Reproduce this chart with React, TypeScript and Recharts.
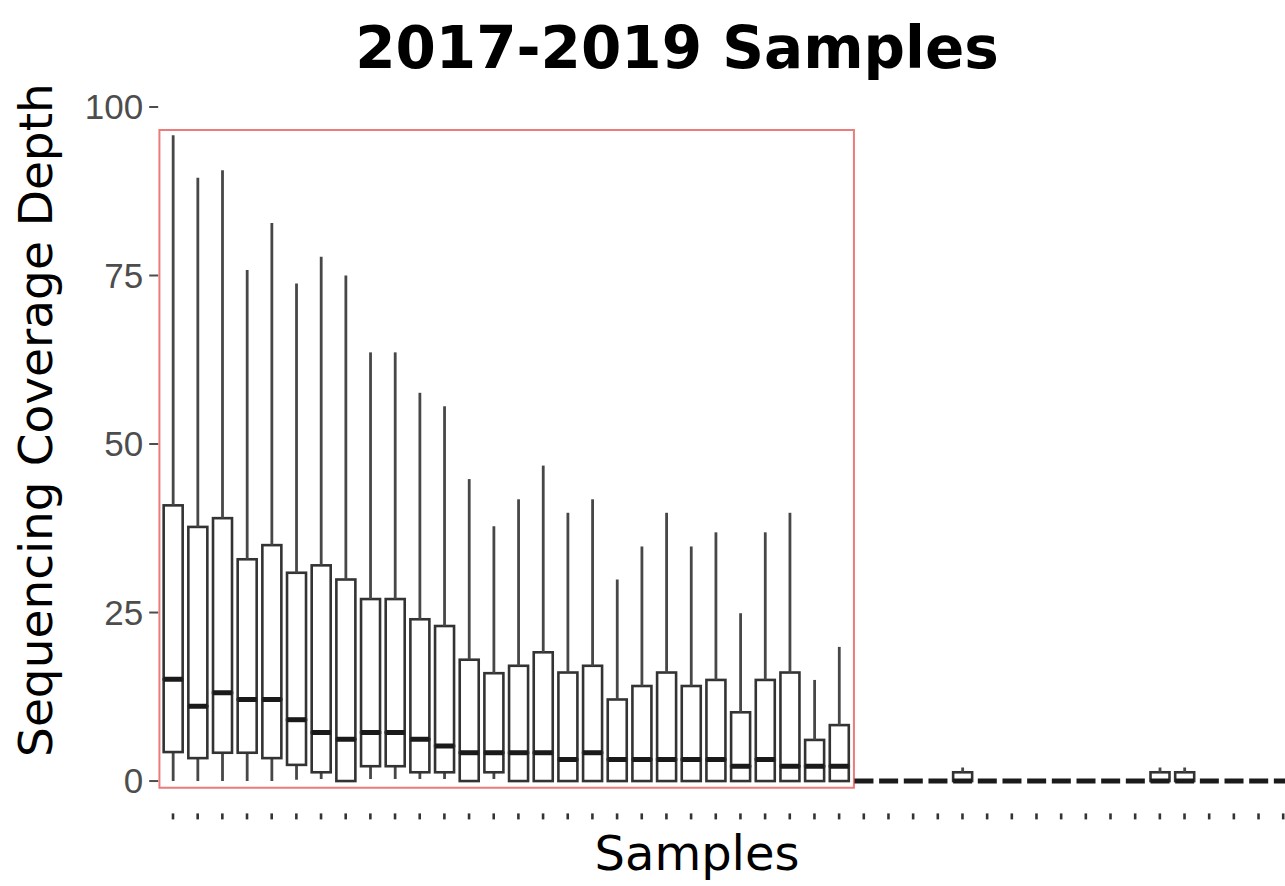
import { ComposedChart, Bar, XAxis, YAxis, ReferenceArea } from 'recharts';

// per-sample coverage summaries (five-number box statistics)
const whiskerMax = [
  95.8, 89.5, 90.6, 75.8, 82.8, 73.8, 77.8, 75.0, 63.6, 63.6, 57.6, 55.6, 44.8, 37.8,
  41.8, 46.8, 39.8, 41.8, 29.9, 34.8, 39.8, 34.8, 36.9, 24.9, 36.9, 39.8, 15.0, 19.9,
  0, 0, 0, 0, 2.0, 0, 0, 0, 0, 0, 0, 0, 2.0, 2.0, 0, 0, 0, 0,
];
const upperQuartile = [
  40.9, 37.7, 39.0, 32.9, 35.0, 30.9, 32.0, 29.9, 27.0, 27.0, 24.0, 23.0, 18.0, 16.0,
  17.1, 19.1, 16.1, 17.1, 12.1, 14.1, 16.1, 14.1, 15.0, 10.2, 15.0, 16.1, 6.1, 8.3,
  0, 0, 0, 0, 1.3, 0, 0, 0, 0, 0, 0, 0, 1.3, 1.3, 0, 0, 0, 0,
];
const medianDepth = [
  15.1, 11.1, 13.1, 12.1, 12.1, 9.1, 7.2, 6.2, 7.2, 7.2, 6.2, 5.2, 4.2, 4.2,
  4.2, 4.2, 3.2, 4.2, 3.2, 3.2, 3.2, 3.2, 3.2, 2.2, 3.2, 2.2, 2.2, 2.2,
  0, 0, 0, 0, 0, 0, 0, 0, 0, 0, 0, 0, 0, 0, 0, 0, 0, 0,
];
const lowerQuartile = [
  4.3, 3.4, 4.2, 4.2, 3.4, 2.4, 1.3, 0, 2.2, 2.2, 1.3, 1.3, 0, 1.3,
  0, 0, 0, 0, 0, 0, 0, 0, 0, 0, 0, 0, 0, 0,
  0, 0, 0, 0, 0, 0, 0, 0, 0, 0, 0, 0, 0, 0, 0, 0, 0, 0,
];
const whiskerMin = [
  0, 0, 0, 0, 0, 0.2, 0.3, 0, 0.3, 0.3, 0.3, 0.3, 0, 0.3,
  0, 0, 0, 0, 0, 0, 0, 0, 0, 0, 0, 0, 0, 0,
  0, 0, 0, 0, 0, 0, 0, 0, 0, 0, 0, 0, 0, 0, 0, 0, 0, 0,
];
const yTicks = [0, 25, 50, 75, 100];

const sampleIds = whiskerMax.map((_, i) => i + 1);

// stacked segments: invisible base, lower whisker, lower box, upper box, upper whisker
const rows = sampleIds.map((id, i) => ({
  id,
  base: whiskerMin[i],
  lowWhisker: lowerQuartile[i] - whiskerMin[i],
  lowBox: medianDepth[i] - lowerQuartile[i],
  highBox: upperQuartile[i] - medianDepth[i],
  highWhisker: whiskerMax[i] - upperQuartile[i],
}));

const Empty = () => <g />;

const Whisker = (p: any) => {
  const cx = p.x + p.width / 2;
  if (!p.height) return <g />;
  return (
    <line x1={cx} x2={cx} y1={p.y} y2={p.y + p.height} stroke="#474747" strokeWidth={2.8} />
  );
};

const LowerBox = (p: any) => (
  <rect
    x={p.x}
    y={p.y}
    width={p.width}
    height={Math.max(p.height, 0)}
    fill="#fff"
    stroke="#333"
    strokeWidth={2.6}
  />
);

// upper half of the box, with the median drawn along its bottom edge
const UpperBox = (p: any) => {
  const my = p.y + p.height;
  return (
    <g>
      <rect
        x={p.x}
        y={p.y}
        width={p.width}
        height={Math.max(p.height, 0)}
        fill="#fff"
        stroke="#333"
        strokeWidth={2.6}
      />
      <line x1={p.x} x2={p.x + p.width} y1={my} y2={my} stroke="#1a1a1a" strokeWidth={5} />
    </g>
  );
};

const FONT = '"DejaVu Sans", Verdana, sans-serif';

export default function App() {
  return (
    <div
      style={{
        position: 'absolute',
        left: 0,
        top: 0,
        width: 1285,
        height: 886,
        overflow: 'hidden',
        background: '#fff',
      }}
    >
      <ComposedChart
        width={1298}
        height={886}
        data={rows}
        margin={{ top: 101.6, right: 0, bottom: 42.6, left: 0 }}
      >
        <XAxis
          dataKey="id"
          type="number"
          domain={[0.4, 46.6]}
          ticks={sampleIds}
          allowDataOverflow
          axisLine={false}
          tickLine={{ stroke: '#333', strokeWidth: 2.6 }}
          tickSize={6}
          tickFormatter={() => ''}
          height={30}
        />
        <YAxis
          type="number"
          domain={[-4.8, 100.8]}
          ticks={yTicks}
          allowDataOverflow
          axisLine={false}
          tickLine={{ stroke: '#4d4d4d', strokeWidth: 2 }}
          tickSize={9}
          tickMargin={6}
          width={158.2}
          tick={{ fill: '#4d4d4d', fontSize: 35, fontFamily: '"Liberation Sans", Arial, sans-serif' }}
        />
        <Bar dataKey="base" stackId="box" barSize={19} shape={Empty} isAnimationActive={false} />
        <Bar dataKey="lowWhisker" stackId="box" barSize={19} shape={Whisker} isAnimationActive={false} />
        <Bar dataKey="lowBox" stackId="box" barSize={19} shape={LowerBox} isAnimationActive={false} />
        <Bar dataKey="highBox" stackId="box" barSize={19} shape={UpperBox} isAnimationActive={false} />
        <Bar dataKey="highWhisker" stackId="box" barSize={19} shape={Whisker} isAnimationActive={false} />
        <ReferenceArea
          x1={0.45}
          x2={28.6}
          y1={-1}
          y2={96.6}
          fill="none"
          fillOpacity={0}
          stroke="#ec7b7b"
          strokeWidth={2}
        />
      </ComposedChart>
      <svg
        width={1285}
        height={886}
        style={{ position: 'absolute', left: 0, top: 0, pointerEvents: 'none' }}
      >
        <text x={677} y={68} textAnchor="middle" fontFamily={FONT} fontWeight="bold" fontSize={58} fill="#000">
          2017-2019 Samples
        </text>
        <text x={697} y={870} textAnchor="middle" fontFamily={FONT} fontSize={48} fill="#000">
          Samples
        </text>
        <text
          x={52}
          y={420}
          textAnchor="middle"
          transform="rotate(-90, 52, 420)"
          fontFamily={FONT}
          fontSize={47}
          fill="#000"
        >
          Sequencing Coverage Depth
        </text>
      </svg>
    </div>
  );
}
